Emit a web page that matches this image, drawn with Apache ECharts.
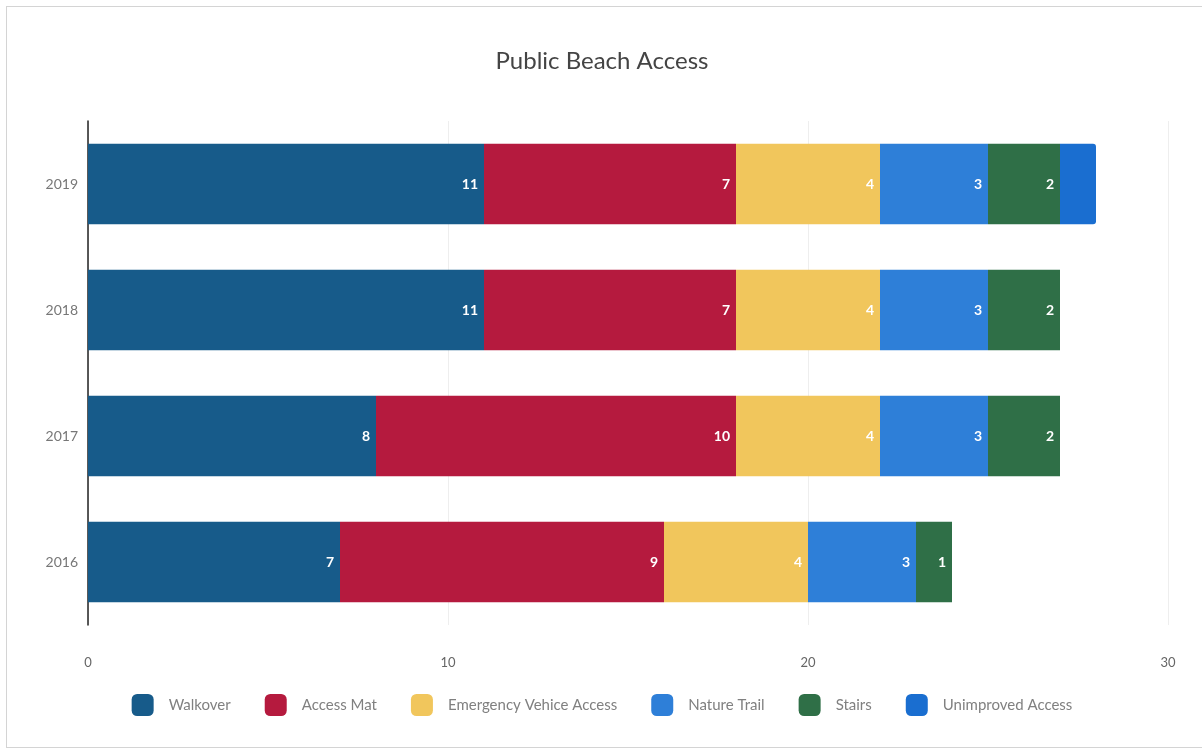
<!DOCTYPE html>
<html><head><meta charset="utf-8">
<script src="https://cdn.jsdelivr.net/npm/echarts@6/dist/echarts.min.js"></script>
<style>
html,body{margin:0;padding:0;background:#fff;}
#frame{position:absolute;left:6px;top:6px;width:1196px;height:742px;border:1px solid #d4d4d4;border-right:none;box-sizing:border-box;}
#c{position:absolute;left:0;top:0;width:1204px;height:755px;}
</style></head>
<body>
<div id="frame"></div>
<div id="c"></div>
<script>
const categories = ['2016','2017','2018','2019'];
const legendLabels = ['Walkover','Access Mat','Emergency Vehice Access','Nature Trail','Stairs','Unimproved Access'];
const walkover = [7, 8, 11, 11];
const accessMat = [9, 10, 7, 7];
const emergency = [4, 4, 4, 4];
const natureTrail = [3, 3, 3, 3];
const stairs = [1, 2, 2, 2];
const unimproved = [0, 0, 0, 1];
const xTicks = [0, 10, 20, 30];

const colors = ['#175b8a','#b51a3e','#f1c65c','#2e7fd8','#2f6f47','#1a6ed0'];
const values = [walkover, accessMat, emergency, natureTrail, stairs, unimproved];

const series = values.map((v, i) => ({
  name: legendLabels[i],
  type: 'bar',
  stack: 'total',
  barWidth: '64%',
  data: v.map(x => x === 0 ? null : x),
  itemStyle: { color: colors[i], borderRadius: i === 5 ? [0,3,3,0] : 0 },
  label: {
    show: i !== 5,
    position: 'insideRight',
    color: '#fff',
    fontWeight: 'bold',
    fontSize: 14,
    fontFamily: 'Lato',
    distance: 6
  }
}));

const chart = echarts.init(document.getElementById('c'));
chart.setOption({
  animation: false,
  title: {
    text: 'Public Beach Access',
    left: 'center', top: 44,
    textStyle: { fontFamily: 'Lato', fontWeight: 'normal', fontSize: 24, color: '#444' }
  },
  legend: {
    bottom: 34, left: 'center',
    itemWidth: 22, itemHeight: 22, itemGap: 34,
    icon: 'roundRect',
    textStyle: { fontFamily: 'Lato', fontSize: 15, color: '#808080', padding: [0, 0, 0, 10] },
    data: legendLabels
  },
  grid: { left: 88, right: 36, top: 121, bottom: 130 },
  xAxis: {
    type: 'value', min: 0, max: 30, interval: 10,
    axisLine: { show: false }, axisTick: { show: false },
    splitLine: { show: true, lineStyle: { color: '#eeeeee' } },
    axisLabel: { margin: 31, color: '#666', fontFamily: 'Lato', fontSize: 13,
      formatter: v => xTicks.includes(v) ? String(v) : '' }
  },
  yAxis: {
    type: 'category', data: categories,
    axisLine: { show: true, lineStyle: { color: '#222', width: 1.5 } },
    axisTick: { show: false },
    axisLabel: { margin: 10, color: '#777', fontFamily: 'Lato', fontSize: 14 }
  },
  series: series
});
</script>
</body></html>
